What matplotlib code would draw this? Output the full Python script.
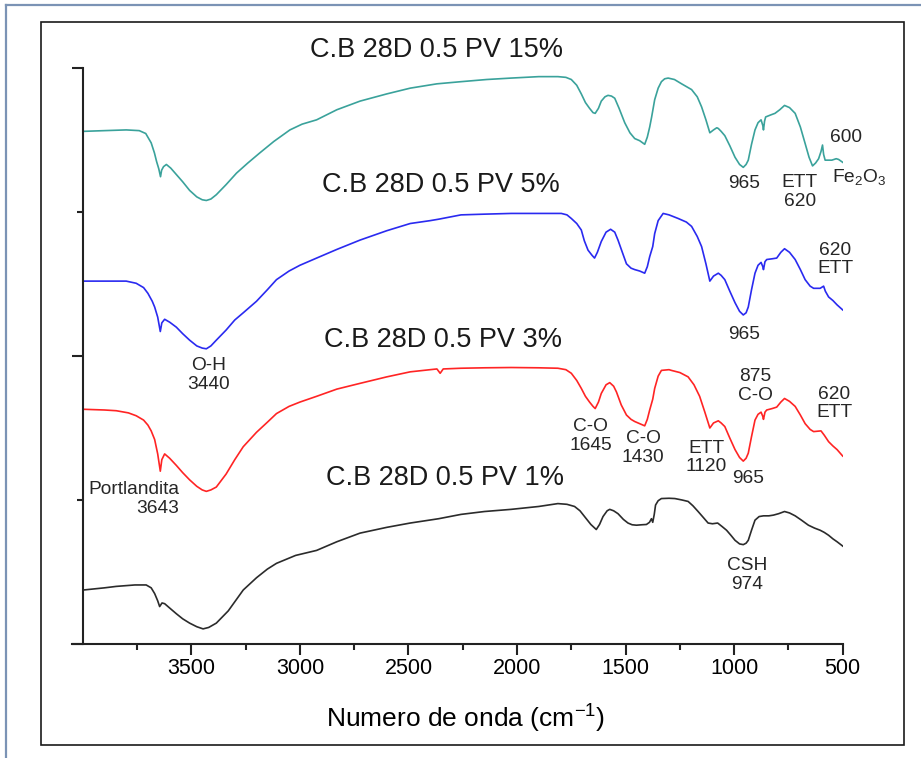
import matplotlib
matplotlib.use("Agg")
import matplotlib.pyplot as plt
from matplotlib.patches import Rectangle
from matplotlib.lines import Line2D

plt.rcParams['font.family'] = ['Liberation Sans', 'DejaVu Sans']

# espectros FTIR (numero de onda, intensidad relativa desplazada)
wn_15 = [3997, 3900, 3800, 3740, 3710, 3685, 3670, 3660, 3650, 3642, 3637, 3628, 3615, 3595, 3569,
         3540, 3508, 3475, 3450, 3431, 3410, 3385, 3340, 3292, 3240, 3185, 3120, 3046, 2990, 2923,
         2830, 2723, 2600, 2492, 2369, 2258, 2140, 2027, 1900, 1812, 1775, 1750, 1725, 1704, 1685,
         1666, 1650, 1640, 1625, 1612, 1595, 1581, 1565, 1550, 1530, 1504, 1480, 1458, 1435, 1412,
         1400, 1389, 1380, 1366, 1350, 1335, 1320, 1304, 1275, 1242, 1196, 1170, 1150, 1130, 1112,
         1095, 1080, 1073, 1060, 1043, 1020, 996, 975, 958, 945, 935, 920, 904, 890, 876,
         868, 865, 860, 855, 830, 812, 790, 768, 745, 719, 695, 673, 655, 639, 625,
         611, 600, 593, 588, 581, 550, 530, 519, 500]
t_15 = [3.56, 3.565, 3.57, 3.565, 3.545, 3.48, 3.41, 3.35, 3.30, 3.245, 3.29, 3.315, 3.33, 3.305, 3.26,
        3.21, 3.15, 3.105, 3.085, 3.08, 3.09, 3.12, 3.19, 3.27, 3.34, 3.41, 3.49, 3.57, 3.61, 3.64,
        3.71, 3.77, 3.82, 3.86, 3.89, 3.905, 3.92, 3.93, 3.94, 3.94, 3.935, 3.92, 3.88, 3.82, 3.76,
        3.72, 3.69, 3.685, 3.72, 3.77, 3.80, 3.81, 3.805, 3.79, 3.72, 3.62, 3.55, 3.51, 3.495, 3.47,
        3.52, 3.59, 3.66, 3.78, 3.86, 3.905, 3.925, 3.93, 3.92, 3.89, 3.85, 3.80, 3.73, 3.64, 3.55,
        3.57, 3.585, 3.58, 3.56, 3.53, 3.46, 3.38, 3.33, 3.31, 3.33, 3.36, 3.47, 3.57, 3.62, 3.64,
        3.60, 3.57, 3.63, 3.66, 3.675, 3.685, 3.71, 3.74, 3.725, 3.685, 3.59, 3.475, 3.38, 3.32, 3.34,
        3.37, 3.42, 3.465, 3.40, 3.36, 3.36, 3.37, 3.365, 3.345]

wn_5 = [3997, 3900, 3800, 3754, 3720, 3700, 3680, 3669, 3655, 3643, 3636, 3623, 3600, 3569, 3540,
        3508, 3475, 3450, 3431, 3410, 3385, 3340, 3300, 3261, 3200, 3150, 3108, 3050, 3000, 2923,
        2830, 2723, 2600, 2492, 2400, 2361, 2258, 2150, 2027, 1900, 1796, 1770, 1750, 1725, 1704,
        1690, 1673, 1655, 1643, 1630, 1612, 1590, 1569, 1550, 1535, 1515, 1496, 1475, 1458, 1435,
        1412, 1400, 1389, 1375, 1366, 1350, 1327, 1300, 1258, 1220, 1196, 1170, 1150, 1130, 1112,
        1095, 1073, 1060, 1043, 1020, 996, 975, 958, 945, 935, 920, 904, 890, 876, 868,
        865, 858, 850, 825, 804, 785, 768, 745, 719, 695, 673, 650, 634, 604, 588,
        580, 565, 545, 526, 500]
t_5 = [2.52, 2.52, 2.52, 2.505, 2.475, 2.435, 2.38, 2.34, 2.27, 2.17, 2.23, 2.255, 2.235, 2.20, 2.155,
       2.11, 2.07, 2.055, 2.05, 2.07, 2.11, 2.18, 2.25, 2.30, 2.38, 2.46, 2.53, 2.59, 2.63, 2.68,
       2.74, 2.805, 2.87, 2.92, 2.94, 2.95, 2.98, 2.985, 2.99, 2.99, 2.99, 2.98, 2.955, 2.92, 2.875,
       2.80, 2.735, 2.70, 2.68, 2.72, 2.795, 2.86, 2.88, 2.86, 2.805, 2.72, 2.64, 2.61, 2.60, 2.59,
       2.575, 2.62, 2.69, 2.76, 2.85, 2.94, 2.99, 2.98, 2.955, 2.93, 2.90, 2.83, 2.76, 2.64, 2.52,
       2.555, 2.575, 2.56, 2.53, 2.45, 2.37, 2.31, 2.285, 2.30, 2.34, 2.46, 2.575, 2.63, 2.65, 2.62,
       2.60, 2.655, 2.67, 2.675, 2.68, 2.72, 2.745, 2.72, 2.67, 2.60, 2.53, 2.485, 2.47, 2.47, 2.485,
       2.45, 2.41, 2.385, 2.355, 2.32]

wn_3 = [3997, 3900, 3846, 3790, 3754, 3720, 3700, 3685, 3669, 3655, 3643, 3636, 3623, 3600, 3569,
        3540, 3508, 3475, 3450, 3431, 3410, 3385, 3340, 3300, 3261, 3200, 3150, 3108, 3050, 3000,
        2923, 2830, 2723, 2600, 2492, 2400, 2369, 2354, 2340, 2258, 2150, 2027, 1900, 1812, 1775,
        1750, 1725, 1704, 1685, 1666, 1650, 1640, 1625, 1612, 1590, 1573, 1555, 1542, 1520, 1496,
        1475, 1458, 1435, 1412, 1400, 1389, 1375, 1366, 1350, 1335, 1300, 1289, 1250, 1212, 1185,
        1159, 1135, 1112, 1095, 1073, 1060, 1043, 1020, 996, 975, 958, 945, 935, 920, 904,
        890, 876, 868, 865, 858, 850, 825, 804, 785, 768, 745, 719, 695, 673, 650,
        634, 600, 585, 565, 545, 526, 500]
t_3 = [1.63, 1.625, 1.62, 1.605, 1.585, 1.555, 1.52, 1.48, 1.42, 1.32, 1.20, 1.28, 1.32, 1.29, 1.24,
       1.19, 1.14, 1.095, 1.07, 1.06, 1.07, 1.09, 1.18, 1.28, 1.37, 1.47, 1.54, 1.60, 1.65, 1.68,
       1.72, 1.77, 1.81, 1.855, 1.89, 1.905, 1.91, 1.88, 1.91, 1.915, 1.918, 1.92, 1.918, 1.915, 1.905,
       1.88, 1.83, 1.775, 1.72, 1.68, 1.65, 1.635, 1.68, 1.74, 1.80, 1.815, 1.79, 1.75, 1.66, 1.59,
       1.56, 1.545, 1.53, 1.515, 1.56, 1.625, 1.70, 1.775, 1.86, 1.90, 1.905, 1.90, 1.885, 1.855, 1.80,
       1.72, 1.61, 1.50, 1.535, 1.55, 1.535, 1.51, 1.43, 1.35, 1.295, 1.27, 1.29, 1.325, 1.44, 1.555,
       1.595, 1.61, 1.58, 1.56, 1.61, 1.625, 1.635, 1.645, 1.68, 1.705, 1.685, 1.65, 1.59, 1.53, 1.49,
       1.475, 1.48, 1.45, 1.405, 1.375, 1.35, 1.305]

wn_1 = [3997, 3900, 3846, 3760, 3708, 3685, 3669, 3655, 3646, 3635, 3623, 3600, 3569, 3540, 3508,
        3475, 3446, 3420, 3385, 3330, 3261, 3200, 3150, 3108, 3020, 2923, 2830, 2723, 2600, 2492,
        2361, 2258, 2150, 2027, 1900, 1812, 1770, 1735, 1710, 1689, 1660, 1635, 1620, 1604, 1585,
        1573, 1555, 1535, 1510, 1489, 1470, 1450, 1425, 1404, 1390, 1381, 1375, 1368, 1362, 1350,
        1335, 1300, 1273, 1240, 1212, 1190, 1166, 1140, 1120, 1100, 1076, 1055, 1035, 1015, 996,
        975, 958, 945, 935, 920, 904, 885, 865, 840, 819, 795, 768, 745, 719, 690,
        658, 630, 604, 585, 565, 545, 526, 500]
t_1 = [0.375, 0.39, 0.40, 0.41, 0.41, 0.39, 0.35, 0.30, 0.26, 0.285, 0.28, 0.25, 0.21, 0.175, 0.145,
       0.12, 0.105, 0.115, 0.145, 0.23, 0.375, 0.46, 0.52, 0.56, 0.615, 0.65, 0.71, 0.77, 0.81, 0.84,
       0.87, 0.90, 0.92, 0.935, 0.955, 0.975, 0.97, 0.955, 0.925, 0.885, 0.83, 0.795, 0.83, 0.885, 0.925,
       0.935, 0.925, 0.905, 0.865, 0.84, 0.828, 0.825, 0.828, 0.83, 0.845, 0.87, 0.845, 0.90, 0.965, 0.995,
       1.01, 1.012, 1.01, 1.0, 0.99, 0.96, 0.92, 0.875, 0.84, 0.835, 0.84, 0.815, 0.79, 0.755, 0.72,
       0.695, 0.69, 0.70, 0.72, 0.79, 0.86, 0.885, 0.89, 0.89, 0.895, 0.905, 0.92, 0.91, 0.89, 0.86,
       0.825, 0.805, 0.79, 0.775, 0.755, 0.73, 0.71, 0.68]

# nombres de las muestras y donde van escritos
muestras = ["C.B 28D 0.5 PV 15%", "C.B 28D 0.5 PV 5%", "C.B 28D 0.5 PV 3%", "C.B 28D 0.5 PV 1%"]
pos_muestras = [(2369, 4.125), (2349, 3.19), (2341, 2.11), (2332, 1.15)]

# bandas marcadas
bandas = ["965", "ETT\n620", "600", "Fe$_\\mathregular{2}$O$_\\mathregular{3}$",
          "620\nETT", "965", "O-H\n3440",
          "C-O\n1645", "C-O\n1430", "ETT\n1120", "965", "875\nC-O", "620\nETT",
          "CSH\n974"]
pos_bandas = [(954, 3.20), (698, 3.14), (485, 3.52), (423, 3.24),
              (535, 2.67), (954, 2.15), (3419, 1.87),
              (1662, 1.445), (1419, 1.36), (1127, 1.295), (934, 1.15), (901, 1.79), (538, 1.67),
              (942, 0.48)]

fig = plt.figure(figsize=(9.21, 7.58), dpi=100)
ax = fig.add_axes([0.0781, 0.1504, 0.8369, 0.7599])

ax.plot(wn_15, t_15, color='#3aa29b', lw=1.2)
ax.plot(wn_5, t_5, color='#2a2af0', lw=1.2)
ax.plot(wn_3, t_3, color='#ff2424', lw=1.2)
ax.plot(wn_1, t_1, color='#2b2b2b', lw=1.2)

for txt, (x, y) in zip(muestras, pos_muestras):
    ax.text(x, y, txt, fontsize=19.5, ha='center', va='center', color='#1a1a1a')

for txt, (x, y) in zip(bandas, pos_bandas):
    ax.text(x, y, txt, fontsize=13.8, ha='center', va='center', color='#262626',
            linespacing=1.15)

ax.text(3555, 1.01, "Portlandita\n3643", fontsize=13.8, ha='right', va='center',
        multialignment='right', color='#262626', linespacing=1.15)

ax.set_xlim(4050, 500)
ax.set_ylim(0, 4)
ax.spines['top'].set_visible(False)
ax.spines['right'].set_visible(False)
ax.spines['left'].set_position(('data', 4000))
for s in ['left', 'bottom']:
    ax.spines[s].set_linewidth(1.5)
    ax.spines[s].set_color('#222222')

ax.set_xticks([3500, 3000, 2500, 2000, 1500, 1000, 500])
ax.set_xticks([3750, 3250, 2750, 2250, 1750, 1250, 750], minor=True)
ax.set_yticks([0, 2, 4])
ax.set_yticks([1, 3], minor=True)
ax.set_yticklabels([])
ax.tick_params(which='major', direction='out', length=8, width=1.5, color='#222222',
               labelsize=15.5, pad=2)
ax.tick_params(which='minor', direction='out', length=4.5, width=1.5, color='#222222')

ax.set_xlabel("Numero de onda (cm$^\\mathregular{-1}$)", fontsize=19, va='center')
ax.xaxis.set_label_coords(0.51, -0.128)

# marco negro y borde de la pagina
fig.add_artist(Rectangle((0.0445, 0.0172), 0.937, 0.9538, transform=fig.transFigure,
                         fill=False, edgecolor='#1a1a1a', lw=1.2))
fig.add_artist(Line2D([0.0065, 1.0], [0.9934, 0.9934], transform=fig.transFigure,
                      color='#7b93b5', lw=1.6))
fig.add_artist(Line2D([0.0065, 0.0065], [0.0, 0.9934], transform=fig.transFigure,
                      color='#7b93b5', lw=1.6))

fig.savefig("out.png", dpi=100)
